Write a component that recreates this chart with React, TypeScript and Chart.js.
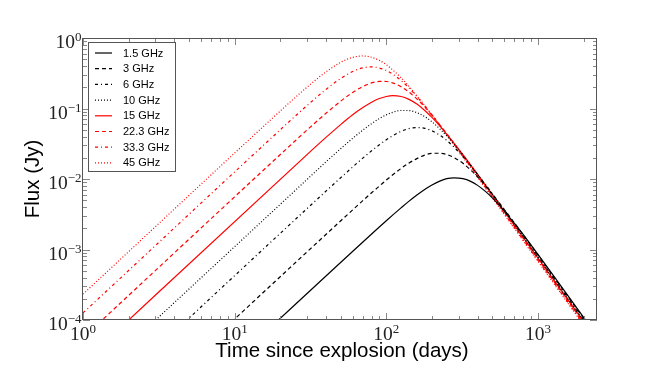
import React, { useEffect, useRef } from 'react';
import { Chart, registerables } from 'chart.js';

Chart.register(...registerables);

// ---- Data (days since explosion, flux in Jy) ----
const days1_5 = [1, 80, 100, 125, 140, 160, 180, 200, 225, 250, 280, 320, 360, 400, 450, 500, 600, 700, 800, 1000, 1300, 2500];
const flux1_5 = [2.61e-7, 0.00166, 0.00256, 0.00389, 0.00478, 0.00597, 0.00716, 0.00822, 0.00932, 0.0101, 0.0104, 0.0101, 0.00925, 0.00812, 0.00667, 0.0054, 0.00351, 0.00234, 0.00162, 8.51e-4, 3.93e-4, 5.57e-5];

const days3 = [1, 60, 70, 80, 90, 100, 125, 140, 160, 180, 200, 225, 250, 280, 320, 360, 400, 450, 500, 600, 700, 800, 1000, 2500];
const flux3 = [1.023e-6, 0.00365, 0.00493, 0.00638, 0.00794, 0.00966, 0.0141, 0.0167, 0.0196, 0.0219, 0.0231, 0.0232, 0.0223, 0.0201, 0.0167, 0.0134, 0.0107, 0.00802, 0.00609, 0.00369, 0.00238, 0.00161, 8.34e-4, 5.38e-5];

const days6 = [1, 40, 50, 60, 70, 80, 90, 100, 110, 125, 140, 160, 180, 200, 225, 250, 280, 320, 360, 400, 450, 500, 600, 700, 2500];
const flux6 = [4.23e-6, 0.00672, 0.0104, 0.0148, 0.0198, 0.0251, 0.0306, 0.036, 0.0411, 0.0474, 0.0517, 0.0536, 0.0522, 0.0483, 0.0419, 0.0353, 0.0281, 0.0207, 0.0154, 0.0116, 0.00838, 0.00619, 0.00365, 0.00232, 5.14e-5];

const days10 = [1, 35, 40, 50, 60, 70, 80, 90, 100, 110, 125, 140, 160, 180, 200, 225, 250, 280, 320, 400, 500, 600, 2500];
const flux10 = [1.107e-5, 0.0134, 0.0175, 0.0269, 0.0378, 0.0493, 0.0611, 0.0722, 0.0813, 0.0883, 0.0937, 0.0936, 0.0868, 0.0762, 0.0647, 0.0516, 0.0408, 0.0309, 0.0218, 0.0116, 0.0061, 0.00356, 4.97e-5];

const days15 = [1, 30, 40, 50, 60, 70, 80, 90, 100, 110, 125, 140, 160, 180, 200, 225, 250, 280, 320, 400, 500, 2500];
const flux15 = [2.49e-5, 0.0222, 0.0389, 0.0591, 0.0813, 0.103, 0.123, 0.1385, 0.148, 0.152, 0.148, 0.136, 0.1145, 0.0931, 0.0748, 0.0567, 0.0434, 0.032, 0.0221, 0.0116, 0.00601, 4.86e-5];

const days22_3 = [1, 25, 30, 40, 50, 60, 70, 80, 90, 100, 110, 125, 140, 160, 180, 200, 250, 320, 400, 2500];
const flux22_3 = [5.58e-5, 0.0346, 0.0495, 0.0855, 0.127, 0.169, 0.205, 0.231, 0.242, 0.2415, 0.231, 0.204, 0.173, 0.135, 0.104, 0.0802, 0.0441, 0.0218, 0.0113, 4.69e-5];

const days33_3 = [1, 20, 25, 30, 40, 50, 60, 70, 80, 90, 100, 110, 125, 140, 160, 200, 250, 320, 400, 2500];
const flux33_3 = [1.26e-4, 0.05, 0.0775, 0.11, 0.1865, 0.266, 0.334, 0.377, 0.389, 0.375, 0.346, 0.308, 0.25, 0.199, 0.1455, 0.0813, 0.0433, 0.0211, 0.01086, 4.48e-5];

const days45 = [1, 20, 25, 30, 35, 40, 50, 60, 70, 80, 90, 100, 125, 160, 200, 250, 320, 2500];
const flux45 = [2.33e-4, 0.0923, 0.1425, 0.2006, 0.265, 0.3305, 0.451, 0.531, 0.556, 0.533, 0.481, 0.418, 0.273, 0.149, 0.0805, 0.0424, 0.0205, 4.33e-5];

const seriesLabels = ['1.5 GHz', '3 GHz', '6 GHz', '10 GHz', '15 GHz', '22.3 GHz', '33.3 GHz', '45 GHz'];
const seriesDays = [days1_5, days3, days6, days10, days15, days22_3, days33_3, days45];
const seriesFlux = [flux1_5, flux3, flux6, flux10, flux15, flux22_3, flux33_3, flux45];
const seriesColors = ['#000000', '#000000', '#000000', '#000000', '#ff0000', '#ff0000', '#ff0000', '#ff0000'];
const seriesDashes = [[], [4, 3], [3, 3, 1, 3], [1, 2], [], [4, 3], [3, 3, 1, 3], [1, 2]];

const xMin = 1;
const xMax = 2450;
const yMin = 1e-4;
const yMax = 1;
const xTickExponents = [0, 1, 2, 3];
const yTickExponents = [-4, -3, -2, -1, 0];
const xTitle = 'Time since explosion (days)';
const yTitle = 'Flux (Jy)';

const SERIF = '"Liberation Serif", "DejaVu Serif", serif';
const SANS = '"Liberation Sans", Arial, sans-serif';

function drawPow(ctx: CanvasRenderingContext2D, exp: number, x: number, y: number, align: 'center' | 'right') {
  const base = '10';
  const sup = exp < 0 ? '\u2212' + String(-exp) : String(exp);
  ctx.font = '19.5px ' + SERIF;
  const wb = ctx.measureText(base).width;
  ctx.font = '13px ' + SERIF;
  const ws = ctx.measureText(sup).width;
  const total = wb + ws;
  const start = align === 'center' ? x - total / 2 : x - total;
  ctx.textAlign = 'left';
  ctx.textBaseline = 'alphabetic';
  ctx.fillStyle = '#222';
  ctx.font = '19.5px ' + SERIF;
  ctx.fillText(base, start, y);
  ctx.font = '13px ' + SERIF;
  ctx.fillText(sup, start + wb, y - 7);
}

const decorPlugin = {
  id: 'decor',
  afterDraw(chart: any) {
    const ctx: CanvasRenderingContext2D = chart.ctx;
    const a = chart.chartArea;
    const xs = chart.scales.x;
    const ys = chart.scales.y;
    ctx.save();

    // ticks (inward, all four sides)
    ctx.strokeStyle = '#888';
    ctx.lineWidth = 1;
    ctx.setLineDash([]);
    ctx.beginPath();
    for (let k = 0; k <= 3; k++) {
      for (let m = 1; m <= 9; m++) {
        const v = m * Math.pow(10, k);
        if (v > xs.max) break;
        const px = Math.round(xs.getPixelForValue(v)) + 0.5;
        const len = m === 1 ? 7 : 4;
        ctx.moveTo(px, a.bottom);
        ctx.lineTo(px, a.bottom - len);
        ctx.moveTo(px, a.top);
        ctx.lineTo(px, a.top + len);
      }
    }
    for (let k = -4; k <= 0; k++) {
      for (let m = 1; m <= 9; m++) {
        const v = m * Math.pow(10, k);
        if (v > ys.max * 1.0001) break;
        const py = Math.round(ys.getPixelForValue(v)) + 0.5;
        const len = m === 1 ? 7 : 4;
        ctx.moveTo(a.left, py);
        ctx.lineTo(a.left + len, py);
        ctx.moveTo(a.right, py);
        ctx.lineTo(a.right - len, py);
      }
    }
    ctx.stroke();

    // frame
    ctx.strokeStyle = '#555';
    ctx.strokeRect(Math.round(a.left) - 0.5, Math.round(a.top) + 0.5, Math.round(a.right - a.left), Math.round(a.bottom - a.top) - 1);

    // tick labels
    for (const e of xTickExponents) {
      const px = xs.getPixelForValue(Math.pow(10, e));
      drawPow(ctx, e, px, a.bottom + 20, 'center');
    }
    for (const e of yTickExponents) {
      const py = ys.getPixelForValue(Math.pow(10, e));
      drawPow(ctx, e, a.left - 1.5, py + 10, 'right');
    }

    // axis titles
    ctx.fillStyle = '#000';
    ctx.font = '20.5px ' + SANS;
    ctx.textAlign = 'center';
    ctx.textBaseline = 'alphabetic';
    ctx.fillText(xTitle, (a.left + a.right) / 2 + 2, 357);
    ctx.save();
    ctx.translate(39, (a.top + a.bottom) / 2);
    ctx.rotate(-Math.PI / 2);
    ctx.fillText(yTitle, 0, 0);
    ctx.restore();

    // legend
    const lx = 88.5, ly = 42.5, lw = 87, lh = 129;
    ctx.fillStyle = '#fff';
    ctx.fillRect(lx, ly, lw, lh);
    ctx.strokeStyle = '#555';
    ctx.lineWidth = 1;
    ctx.strokeRect(lx, ly, lw, lh);
    ctx.font = '11px ' + SANS;
    ctx.textAlign = 'left';
    ctx.textBaseline = 'middle';
    chart.data.datasets.forEach((ds: any, i: number) => {
      const y = ly + 10.5 + i * 15.7;
      ctx.strokeStyle = ds.borderColor;
      ctx.lineWidth = ds.borderWidth;
      ctx.setLineDash(ds.borderDash || []);
      ctx.beginPath();
      ctx.moveTo(95, y);
      ctx.lineTo(112, y);
      ctx.stroke();
      ctx.setLineDash([]);
      ctx.fillStyle = '#000';
      ctx.fillText(ds.label, 123, y + 0.5);
    });

    ctx.restore();
  },
};

export default function App() {
  const ref = useRef<HTMLCanvasElement | null>(null);
  useEffect(() => {
    if (!ref.current) return;
    const datasets = seriesLabels.map((label, i) => ({
      label,
      data: seriesDays[i].map((d, j) => ({ x: d, y: seriesFlux[i][j] })),
      showLine: true,
      borderColor: seriesColors[i],
      backgroundColor: seriesColors[i],
      borderWidth: 1.2,
      borderDash: seriesDashes[i],
      pointRadius: 0,
      fill: false,
      cubicInterpolationMode: 'monotone' as const,
    }));
    const chart = new Chart(ref.current, {
      type: 'scatter',
      data: { datasets },
      options: {
        responsive: false,
        animation: false,
        devicePixelRatio: 1,
        layout: { padding: { left: 83, top: 38, right: 67, bottom: 57 } },
        plugins: { legend: { display: false }, tooltip: { enabled: false } },
        scales: {
          x: { type: 'logarithmic', min: xMin, max: xMax, display: false },
          y: { type: 'logarithmic', min: yMin, max: yMax, display: false },
        },
      },
      plugins: [decorPlugin],
    });
    return () => chart.destroy();
  }, []);
  return (
    <div style={{ position: 'fixed', left: 0, top: 0, width: 664, height: 377, background: '#fff' }}>
      <canvas ref={ref} width={664} height={377} />
    </div>
  );
}
